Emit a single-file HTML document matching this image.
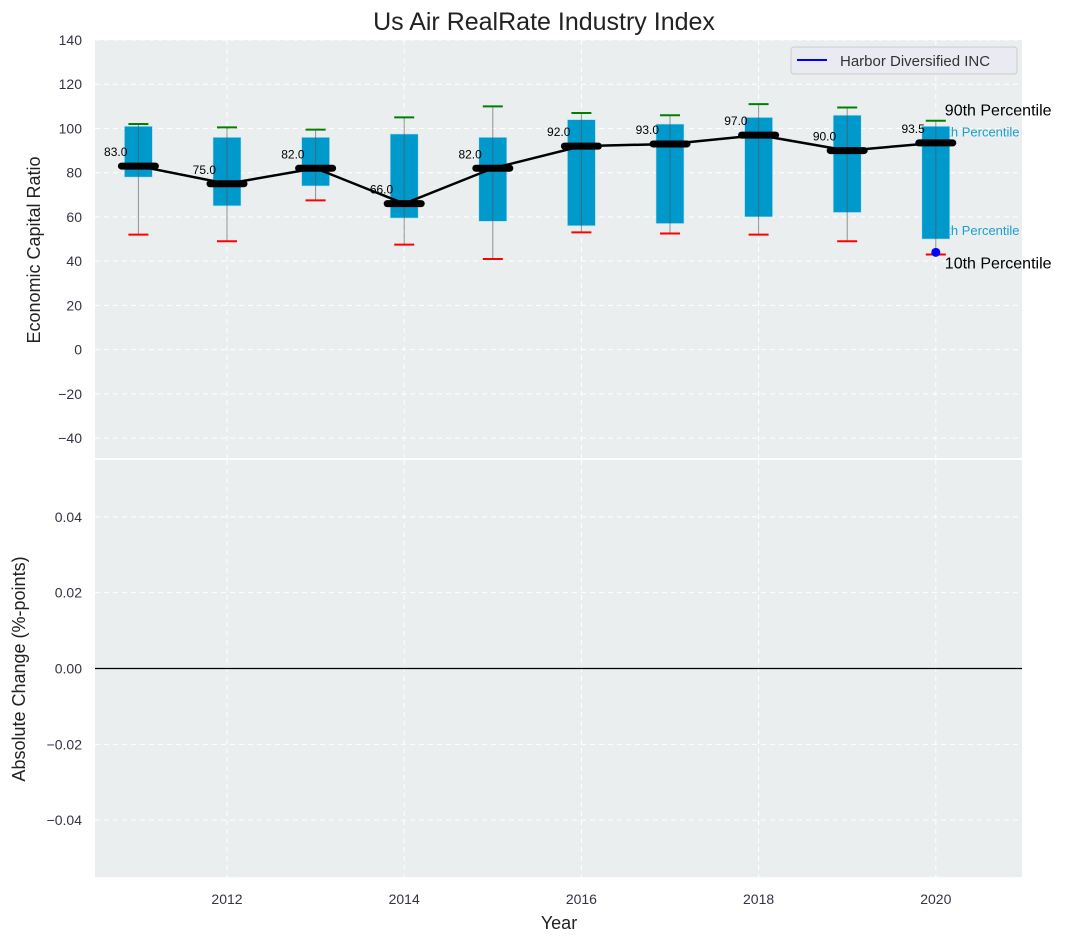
<!DOCTYPE html>
<html><head><meta charset="utf-8"><style>
body{margin:0;background:#fff;}
svg{display:block;font-family:"Liberation Sans","DejaVu Sans",sans-serif;}
</style></head><body>
<svg id="chart" width="1080" height="942">
<rect x="0" y="0" width="1080" height="942" fill="#fff"/>
<text x="544" y="30" font-size="25" text-anchor="middle" fill="#222">Us Air RealRate Industry Index</text>
<rect x="95" y="40" width="927" height="418" fill="#eaeeef"/>
<rect x="95" y="460" width="927" height="417" fill="#eaeeef"/>
<g id="grid"></g>
<g id="marks"></g>
<text transform="translate(40,250) rotate(-90)" font-size="18" text-anchor="middle" fill="#222">Economic Capital Ratio</text>
<text transform="translate(25,669) rotate(-90)" font-size="18" text-anchor="middle" fill="#222">Absolute Change (%-points)</text>
<text x="559" y="929" font-size="18" text-anchor="middle" fill="#222">Year</text>
<g>
<rect x="791" y="47" width="226" height="27" rx="3" fill="#eaeaf2" stroke="#ccc"/>
<line x1="797" y1="60" x2="827" y2="60" stroke="blue" stroke-width="2"/>
<text x="840" y="66" font-size="15" fill="#333">Harbor Diversified INC</text>
</g>
</svg>
<script>
const years=[2011,2012,2013,2014,2015,2016,2017,2018,2019,2020];
const medians=[83,75,82,66,82,92,93,97,90,93.5];
const q1=[78,65,74,59.5,58,56,57,60,62,50];
const q3=[101,96,96,97.5,96,104,102,105,106,101];
const p10=[52,49,67.5,47.5,41,53,52.5,52,49,43];
const p90=[102,100.5,99.5,105,110,107,106,111,109.5,103.5];
const companyYears=[2020];
const companyValues=[44];
const topTicks=[140,120,100,80,60,40,20,0,-20,-40];
const bottomTicks=[0.04,0.02,0,-0.02,-0.04];
const xTicks=[2012,2014,2016,2018,2020];

const NS="http://www.w3.org/2000/svg";
const X=v=>94.1+(v-2010.5)*88.6;
const Y=v=>40+(140-v)/189*418;
const Y2=v=>460+(0.055-v)/0.11*417;
function mk(tag,attrs,parent){const e=document.createElementNS(NS,tag);for(const k in attrs)e.setAttribute(k,attrs[k]);parent.appendChild(e);return e;}
const grid=document.getElementById('grid'),marks=document.getElementById('marks');
topTicks.forEach(t=>{
  const l=mk('line',{x1:95,x2:1022,y1:Y(t),y2:Y(t),stroke:'#fff','stroke-dasharray':'5,4','stroke-width':1},grid);
  
  
  const tx=mk('text',{x:82,y:Y(t)+5,'font-size':14,'text-anchor':'end',fill:'#334'},grid);
  tx.textContent=(t<0?'\u2212'+(-t):t);
  
  
});
bottomTicks.forEach(t=>{
  const l=mk('line',{x1:95,x2:1022,y1:Y2(t),y2:Y2(t),stroke:'#fff','stroke-dasharray':'5,4'},grid);
  
  
  const tx=mk('text',{x:82,y:Y2(t)+5,'font-size':14,'text-anchor':'end',fill:'#334'},grid);
  tx.textContent=(t<0?'\u2212':'')+Math.abs(t).toFixed(2);
  
  
});
xTicks.forEach(t=>{
  [[40,458],[460,877]].forEach(r=>{
    const l=mk('line',{x1:X(t),x2:X(t),y1:r[0],y2:r[1],stroke:'#fff','stroke-dasharray':'5,4'},grid);
    
    
  });
  const tx=mk('text',{x:X(t),y:904,'font-size':14,'text-anchor':'middle',fill:'#334'},grid);
  tx.textContent=t;
  
  
});
const zl=mk('line',{x1:95,x2:1022,y1:Y2(0),y2:Y2(0),stroke:'#000','stroke-width':1.2},marks);


const last=years.length-1, lx=X(years[last])+9;
[['90th Percentile',p90[last],16,'#000',-5,0],['75th Percentile',q3[last],13,'#1a9fd0',10,-12],['25th Percentile',q1[last],13,'#1a9fd0',-4,-12],['10th Percentile',p10[last],16,'#000',14,0]].forEach(d=>{
  const t=mk('text',{x:lx+d[5],y:Y(d[1])+d[4],'font-size':d[2],fill:d[3]},marks);
  t.textContent=d[0];
  
  
});
years.forEach((yr,i)=>{
  const cx=X(yr);
  const b=mk('rect',{x:cx-14,y:Y(q3[i]),width:28,height:Y(q1[i])-Y(q3[i]),fill:'#0099cc',stroke:'#bde3f0','stroke-width':0.6},marks);
  
  
  const w=mk('line',{x1:cx,x2:cx,y1:Y(p90[i]),y2:Y(p10[i]),stroke:'#555','stroke-width':1,opacity:0.6},marks);
  
  
  const g=mk('line',{x1:cx-10,x2:cx+10,y1:Y(p90[i]),y2:Y(p90[i]),stroke:'green','stroke-width':2},marks);
  
  
  const r=mk('line',{x1:cx-10,x2:cx+10,y1:Y(p10[i]),y2:Y(p10[i]),stroke:'red','stroke-width':2},marks);
  
  
});
const pl=mk('polyline',{points:years.map((y,i)=>X(y)+','+Y(medians[i])).join(' '),fill:'none',stroke:'#000','stroke-width':2.5},marks);


years.forEach((yr,i)=>{
  const cx=X(yr);
  const m=mk('line',{x1:cx-17,x2:cx+17,y1:Y(medians[i]),y2:Y(medians[i]),stroke:'#000','stroke-width':7,'stroke-linecap':'round'},marks);
  
  
  const t=mk('text',{x:cx-11,y:Y(medians[i])-10,'font-size':12,'text-anchor':'end',fill:'#000'},marks);
  t.textContent=medians[i].toFixed(1);
  
  
});
companyYears.forEach((yr,i)=>{
  const c=mk('circle',{cx:X(yr),cy:Y(companyValues[i]),r:4.5,fill:'blue'},marks);
  
  
});
</script>
</body></html>
